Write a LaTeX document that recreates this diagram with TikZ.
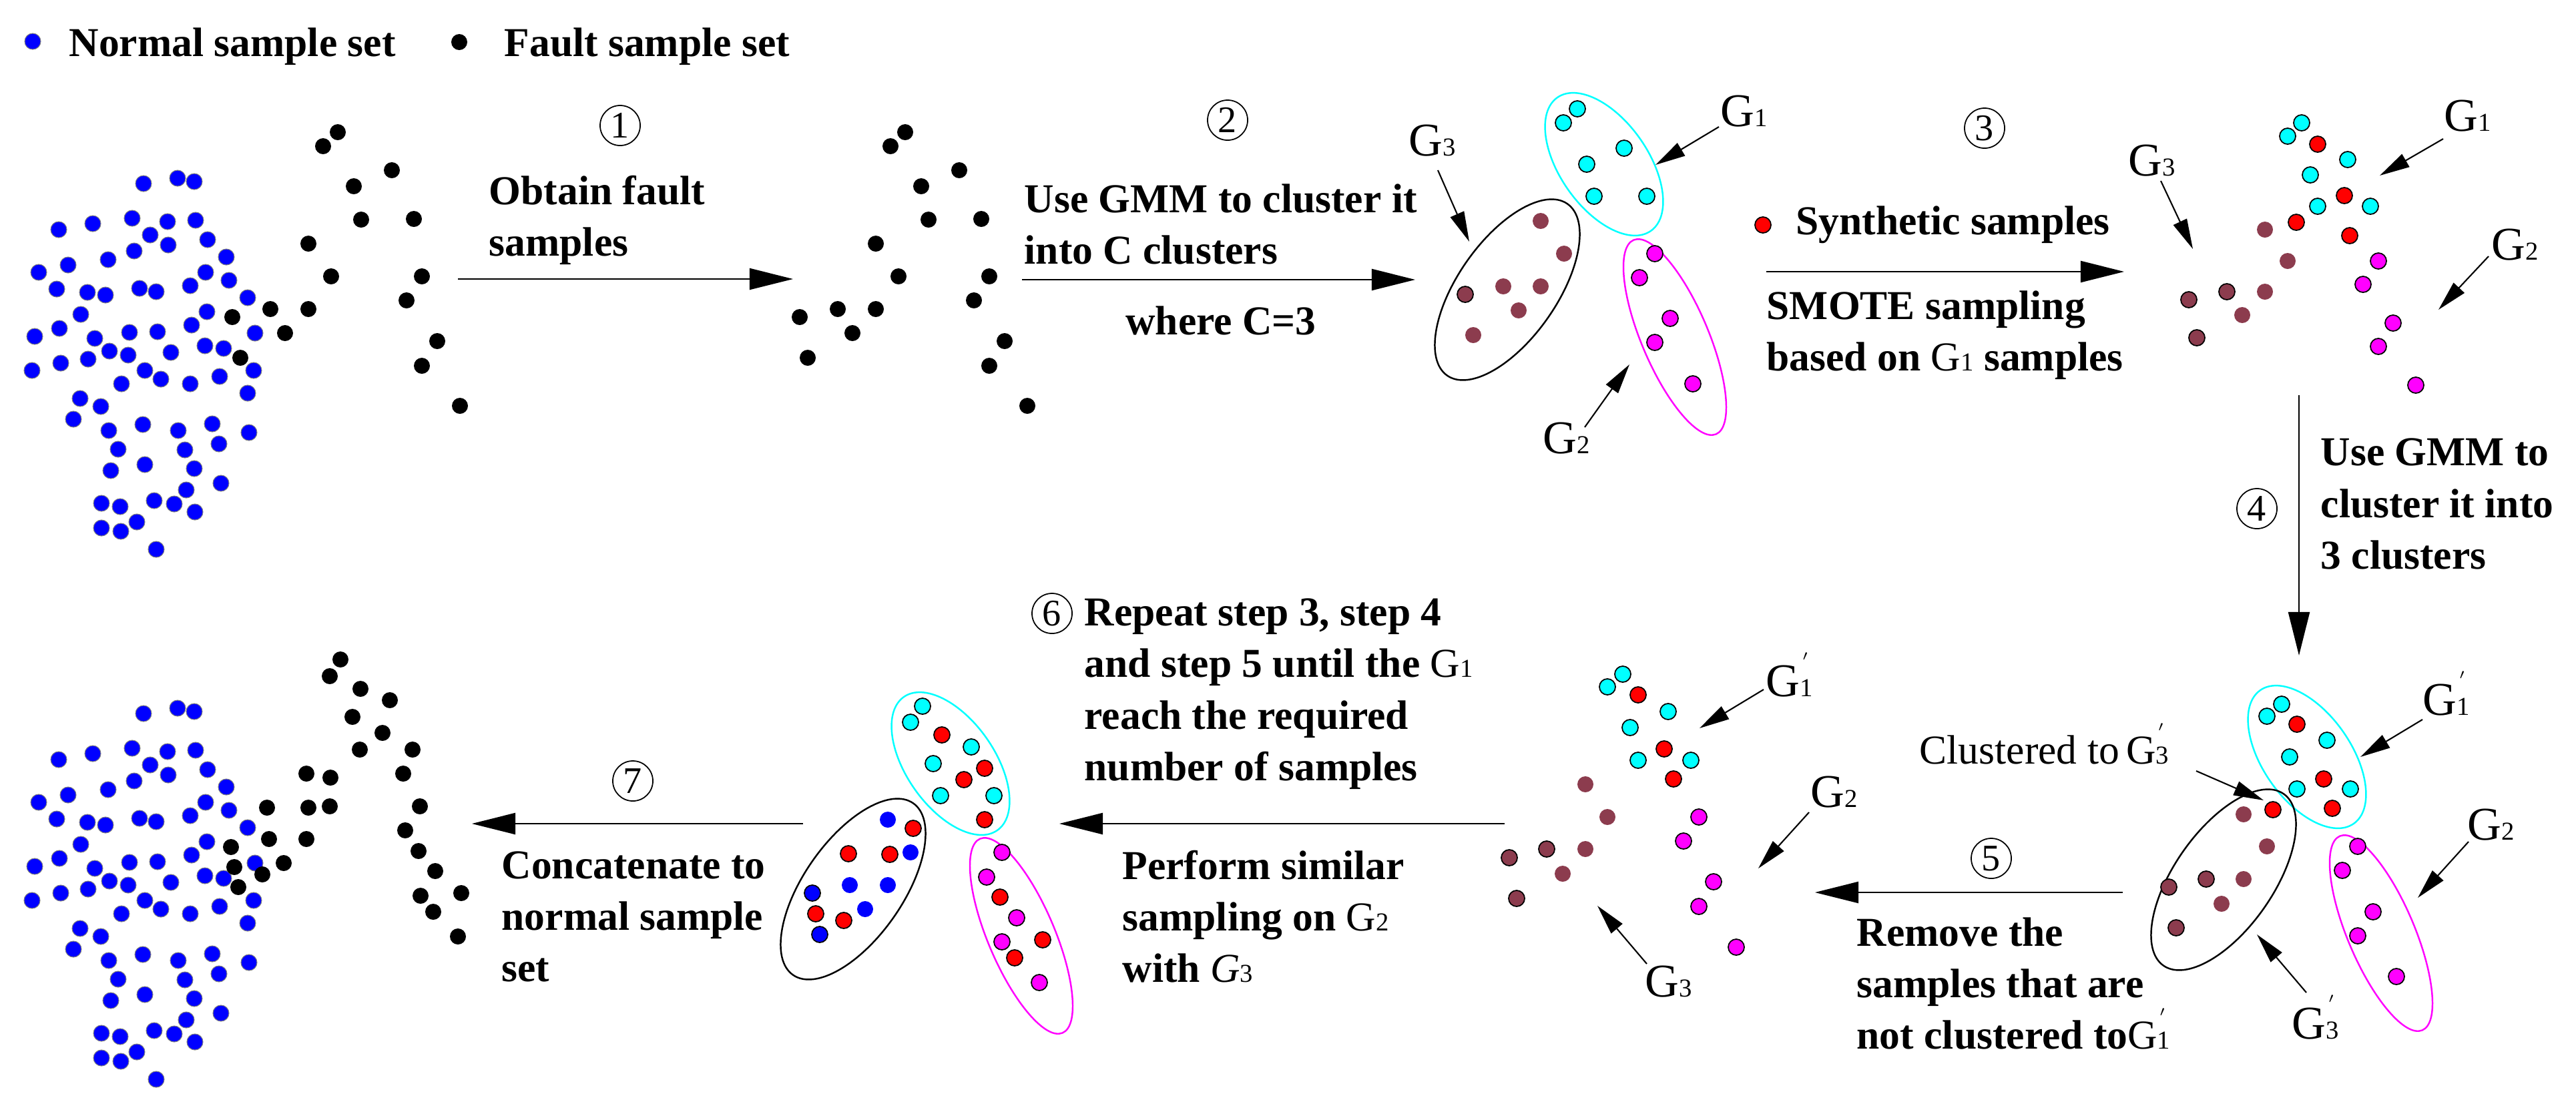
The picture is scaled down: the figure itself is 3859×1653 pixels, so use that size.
\documentclass[tikz,border=0pt]{standalone}
\usepackage{fontspec}
\setmainfont{Liberation Serif}
\usetikzlibrary{arrows.meta}
\definecolor{brn}{RGB}{140,60,78}
\definecolor{cyn}{RGB}{0,255,255}
\definecolor{mgt}{RGB}{255,0,255}
\definecolor{red}{RGB}{255,0,0}
\definecolor{blue}{RGB}{0,0,255}
\newcommand\pts[2]{\foreach \x/\y in {#2}{\path[#1] (\x,\y) circle (12);}}
\newcommand\sdig[1]{{\fontsize{11}{11}\selectfont #1}}
\newcommand\Gs[1]{G\sdig{#1}}
\newcommand\Gp[1]{G\rlap{\raisebox{1.25ex}{\fontsize{9}{9}\selectfont\kern1pt$'$}}\sdig{#1}}
\tikzset{
 blu/.style={fill=blue,draw=gray,line width=0.3pt},
 blk/.style={fill=black},
 cy/.style={fill=cyn,draw=black,line width=0.5pt},
 mg/.style={fill=mgt,draw=black,line width=0.5pt},
 rd/.style={fill=red,draw=black,line width=0.5pt},
 br/.style={fill=brn},
 bro/.style={fill=brn,draw=black,line width=0.5pt},
 bl/.style={fill=blue},
 blo/.style={fill=blue,draw=black,line width=0.5pt},
 main/.style={line width=0.6pt,-{Triangle[length=0.65cm,width=0.32cm]}},
 ptr/.style={line width=0.6pt,-{Triangle[length=0.45cm,width=0.22cm]}},
 txt/.style={font=\fontsize{17.5}{21.9}\selectfont\bfseries,align=left,inner sep=0pt},
 glab/.style={font=\fontsize{20}{22}\selectfont,inner sep=0pt},
 num/.style={circle,draw,line width=0.5pt,inner sep=0pt,minimum size=0.6cm,font=\fontsize{16}{16}\selectfont},
 ecy/.style={draw=cyn,line width=0.7pt},
 emg/.style={draw=mgt,line width=0.7pt},
 ebk/.style={draw=black,line width=0.7pt},
}
\newcommand\blueset{\pts{blu}{215/275,266/267,291/272,88/344,139/335,198/327,251/332,293/330,225/352,252/367,311/359,201/376,162/389,339/385,102/397,58/408,308/408,85/433,131/438,158/442,209/432,234/437,285/428,343/420,371/446,121/471,310/467,89/492,52/504,142/507,194/498,236/497,287/487,382/499,164/526,192/532,256/528,307/518,335/522,48/555,91/544,132/538,217/555,241/568,182/575,285/575,329/564,380/555,371/589,120/597,151/609,110/628,163/645,214/636,267/645,318/635,373/648,177/673,277/674,328/665,166/705,217/696,291/702,331/724,279/734,152/754,180/759,231/750,261/755,292/767,205/782,152/791,181/796,234/823}}
\newcommand\faultset{\pts{blk}{506/198,484/219,587/255,530/279,541/329,620/328,462/365,496/414,632/414,609/450,405/463,462/463,348/475,427/499,360/536,655/511,632/548,689/608}}
\newcommand\threeell[3]{%
 \draw[ecy,rotate around={-55:(#1)}] (#1) ellipse (122 and 66);
 \draw[ebk,rotate around={55:(#2)}] (#2) ellipse (157 and 74);
 \draw[emg,rotate around={-67:(#3)}] (#3) ellipse (158 and 50);}
\begin{document}
\begin{tikzpicture}[x=0.01cm,y=-0.01cm]
\useasboundingbox (0,0) rectangle (3859,1653);
% legend
\pts{blu}{49/62}
\node[txt,anchor=base west] (lg1) at (103,84) {Normal sample set};
\pts{blk}{688/63}
\node[txt,anchor=base west] (lg2) at (755,84) {Fault sample set};
% stage 0
\blueset \faultset
% stage 1
\begin{scope}[shift={(850,0)}]\faultset\end{scope}
% step 1 (base anchor = last line)
\node[num] (n1) at (929,188) {1};
\node[txt,anchor=base west] (t1) at (732,383) {Obtain fault\\samples};
\coordinate (a1s) at (686,418); \coordinate (a1e) at (1188,418);
\draw[main] (a1s) -- (a1e);
% step 2
\node[num] (n2) at (1839,180) {2};
\node[txt,anchor=base west] (t2) at (1534,395) {Use GMM to cluster it\\into C clusters};
\node[txt,anchor=base] (t2b) at (1829,501) {where C=3};
\coordinate (a2s) at (1531,419); \coordinate (a2e) at (2120,419);
\draw[main] (a2s) -- (a2e);
% stage 2
\threeell{2403,246}{2258,434}{2509,505}
\pts{cy}{2363/163,2342/184,2433/222,2377/246,2388/294,2467/294}
\pts{br}{2308/331,2343/380,2252/429,2308/429,2275/465,2207/502}
\pts{bro}{2195/441}
\pts{mg}{2479/380,2456/416,2502/477,2479/513,2536/575}
\node[glab] (g23) at (2146,211) {\Gs3};
\node[glab] (g21) at (2613,167) {\Gs1};
\node[glab] (g22) at (2347,657) {\Gs2};
\coordinate (p23a) at (2154,255); \coordinate (p23b) at (2201,362);
\coordinate (p21a) at (2575,190); \coordinate (p21b) at (2480,247);
\coordinate (p22a) at (2374,640); \coordinate (p22b) at (2441,546);
\draw[ptr] (p23a) -- (p23b); \draw[ptr] (p21a) -- (p21b); \draw[ptr] (p22a) -- (p22b);
% step 3
\node[num] (n3) at (2973,192) {3};
\pts{rd}{2641/337}
\node[txt,anchor=base west] (t3a) at (2690,351) {Synthetic samples};
\node[txt,anchor=base west] (t3) at (2646,555) {SMOTE sampling\\based on \textmd{\Gs1} samples};
\coordinate (a3s) at (2646,407); \coordinate (a3e) at (3182,407);
\draw[main] (a3s) -- (a3e);
% stage 3
\pts{cy}{3448/184,3427/204,3517/239,3461/262,3472/309,3551/309}
\pts{rd}{3472/216,3512/293,3440/333,3520/353}
\pts{br}{3393/344,3427/391,3393/437,3359/472}
\pts{bro}{3279/449,3336/437,3291/506}
\pts{mg}{3563/391,3540/426,3585/484,3563/519,3619/577}
\node[glab] (g33) at (3224,241) {\Gs3};
\node[glab] (g31) at (3697,174) {\Gs1};
\node[glab] (g32) at (3768,367) {\Gs2};
\coordinate (p33a) at (3237,271); \coordinate (p33b) at (3285,373);
\coordinate (p31a) at (3660,208); \coordinate (p31b) at (3565,263);
\coordinate (p32a) at (3728,384); \coordinate (p32b) at (3653,464);
\draw[ptr] (p33a) -- (p33b); \draw[ptr] (p31a) -- (p31b); \draw[ptr] (p32a) -- (p32b);
% step 4
\coordinate (a4s) at (3444,592); \coordinate (a4e) at (3444,982);
\draw[main] (a4s) -- (a4e);
\node[num] (n4) at (3381,762) {4};
\node[txt,anchor=base west] (t4) at (3476,852) {Use GMM to\\cluster it into\\3 clusters};
% stage 4
\threeell{3456,1134}{3331,1318}{3567,1398}
\pts{cy}{3418/1055,3396/1073,3486/1109,3430/1134,3441/1182,3521/1182}
\pts{rd}{3441/1085,3481/1167,3494/1211,3405/1213}
\pts{br}{3361/1220,3396/1268,3361/1317,3328/1354}
\pts{bro}{3305/1317,3249/1329,3260/1390}
\pts{mg}{3532/1268,3509/1304,3555/1366,3532/1402,3590/1463}
\node[glab] (g41) at (3665,1039) {\Gp1};
\node[glab] (g42) at (3732,1236) {\Gs2};
\node[glab] (g43) at (3469,1524) {\Gp3};
\node[font=\fontsize{17.5}{21.9}\selectfont,inner sep=0pt,anchor=base west] (t4c) at (2875,1144) {Clustered to\,\Gp3};
\coordinate (p41a) at (3629,1078); \coordinate (p41b) at (3536,1134);
\coordinate (p42a) at (3698,1261); \coordinate (p42b) at (3622,1345);
\coordinate (p43a) at (3455,1487); \coordinate (p43b) at (3381,1400);
\coordinate (pcla) at (3290,1155); \coordinate (pclb) at (3391,1199);
\draw[ptr] (p41a) -- (p41b); \draw[ptr] (p42a) -- (p42b); \draw[ptr] (p43a) -- (p43b); \draw[ptr] (pcla) -- (pclb);
% step 5
\node[num] (n5) at (2983,1286) {5};
\coordinate (a5s) at (3180,1337); \coordinate (a5e) at (2719,1337);
\draw[main] (a5s) -- (a5e);
\node[txt,anchor=base west] (t5) at (2781,1571) {Remove the\\samples that are\\not clustered to\textmd{\Gp1}};
% stage 5
\pts{cy}{2431/1010,2408/1029,2499/1066,2442/1090,2454/1139,2533/1139}
\pts{rd}{2454/1041,2493/1122,2507/1167}
\pts{br}{2375/1175,2408/1224,2375/1272,2341/1309}
\pts{bro}{2317/1272,2261/1285,2272/1346}
\pts{mg}{2545/1224,2522/1260,2567/1321,2545/1358,2601/1419}
\node[glab] (g51) at (2681,1011) {\Gp1};
\node[glab] (g52) at (2748,1187) {\Gs2};
\node[glab] (g53) at (2500,1471) {\Gs3};
\coordinate (p51a) at (2642,1033); \coordinate (p51b) at (2546,1091);
\coordinate (p52a) at (2710,1217); \coordinate (p52b) at (2634,1301);
\coordinate (p53a) at (2467,1444); \coordinate (p53b) at (2393,1357);
\draw[ptr] (p51a) -- (p51b); \draw[ptr] (p52a) -- (p52b); \draw[ptr] (p53a) -- (p53b);
% step 6
\node[num] (n6) at (1576,919) {6};
\node[txt,anchor=base west] (t6) at (1624,1169) {Repeat step 3, step 4\\and step 5 until the \textmd{\Gs1}\\reach the required\\number of samples};
\coordinate (a6s) at (2254,1234); \coordinate (a6e) at (1587,1234);
\draw[main] (a6s) -- (a6e);
\node[txt,anchor=base west] (t6b) at (1681,1471) {Perform similar\\sampling on \textmd{\Gs2}\\with \textmd{\textit{G}\sdig{3}}};
% stage 6
\threeell{1424,1144}{1278,1332}{1530,1402}
\pts{cy}{1382/1058,1364/1082,1455/1119,1398/1144,1409/1192,1489/1192}
\pts{rd}{1411/1101,1475/1151,1444/1168,1475/1228}
\pts{bl}{1330/1228,1364/1277,1273/1326,1330/1326,1296/1362}
\pts{blo}{1217/1338,1228/1400}
\pts{rd}{1368/1241,1271/1279,1333/1280,1222/1369,1264/1379}
\pts{mg}{1501/1277,1478/1314,1523/1375,1501/1411,1557/1472}
\pts{rd}{1498/1344,1562/1408,1520/1435}
% step 7
\node[num] (n7) at (948,1170) {7};
\coordinate (a7s) at (1203,1234); \coordinate (a7e) at (707,1234);
\draw[main] (a7s) -- (a7e);
\node[txt,anchor=base west] (t7) at (751,1470) {Concatenate to\\normal sample\\set};
% final
\begin{scope}[shift={(0,794)}]\blueset\end{scope}
\pts{blk}{510/988,494/1013,540/1032,584/1049,528/1074,573/1098,539/1123,618/1123,604/1159,459/1159,495/1165,629/1208,400/1210,462/1210,494/1208,607/1244,403/1257,459/1257,346/1269,627/1275,351/1299,425/1293,393/1310,652/1305,357/1329,630/1342,691/1338,649/1366,686/1403}
\end{tikzpicture}
\end{document}
